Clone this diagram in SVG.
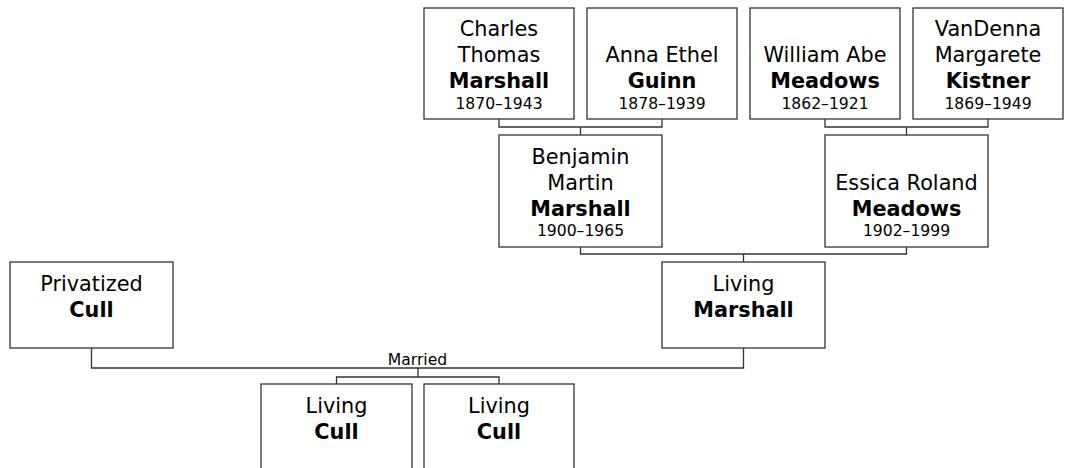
<svg xmlns="http://www.w3.org/2000/svg" width="1066" height="468" viewBox="0 0 1066 468">
  <style>
    .box { fill: #ffffff; stroke: #333333; stroke-width: 1.3; }
    .conn { fill: none; stroke: #333333; stroke-width: 1.3; }
    text { font-family: "DejaVu Sans", Verdana, sans-serif; fill: #000000; text-anchor: middle; }
    .n { font-size: 20.8px; }
    .s { font-size: 20.8px; font-weight: bold; }
    .y { font-size: 15.6px; }
    .lbl { font-size: 15.6px; }
  </style>
  <rect width="1066" height="468" fill="#ffffff"/>
  <g id="connectors">
    <path class="conn" d="M499,119 V127 H662 V119 M580.5,127 V135"/>
    <path class="conn" d="M825,119 V127 H988 V119 M906.5,127 V135"/>
    <path class="conn" d="M580.5,247 V254 H906.5 V247 M743.5,254 V262"/>
    <path class="conn" d="M91.5,348 V368 H743.5 V348"/>
    <path class="conn" d="M418,368 V377 M336.5,384 V377 H499 V384"/>
    <text class="lbl" x="417.5" y="364.5">Married</text>
  </g>
  <g id="charles">
    <rect class="box" x="424" y="8" width="150" height="111"/>
    <text class="n" x="499" y="36">Charles</text>
    <text class="n" x="499" y="62">Thomas</text>
    <text class="s" x="499" y="88">Marshall</text>
    <text class="y" x="499" y="108.5">1870–1943</text>
  </g>
  <g id="anna">
    <rect class="box" x="587" y="8" width="150" height="111"/>
    <text class="n" x="662" y="62">Anna Ethel</text>
    <text class="s" x="662" y="88">Guinn</text>
    <text class="y" x="662" y="108.5">1878–1939</text>
  </g>
  <g id="william">
    <rect class="box" x="750" y="8" width="150" height="111"/>
    <text class="n" x="825" y="62">William Abe</text>
    <text class="s" x="825" y="88">Meadows</text>
    <text class="y" x="825" y="108.5">1862–1921</text>
  </g>
  <g id="vandenna">
    <rect class="box" x="913" y="8" width="150" height="111"/>
    <text class="n" x="988" y="36">VanDenna</text>
    <text class="n" x="988" y="62">Margarete</text>
    <text class="s" x="988" y="88">Kistner</text>
    <text class="y" x="988" y="108.5">1869–1949</text>
  </g>
  <g id="benjamin">
    <rect class="box" x="499" y="135" width="163" height="112"/>
    <text class="n" x="580.5" y="164">Benjamin</text>
    <text class="n" x="580.5" y="190">Martin</text>
    <text class="s" x="580.5" y="216">Marshall</text>
    <text class="y" x="580.5" y="236">1900–1965</text>
  </g>
  <g id="essica">
    <rect class="box" x="825" y="135" width="163" height="112"/>
    <text class="n" x="906.5" y="190">Essica Roland</text>
    <text class="s" x="906.5" y="216">Meadows</text>
    <text class="y" x="906.5" y="236">1902–1999</text>
  </g>
  <g id="living-marshall">
    <rect class="box" x="662" y="262" width="163" height="86"/>
    <text class="n" x="743.5" y="291">Living</text>
    <text class="s" x="743.5" y="317">Marshall</text>
  </g>
  <g id="privatized-cull">
    <rect class="box" x="10" y="262" width="163" height="86"/>
    <text class="n" x="91.5" y="291">Privatized</text>
    <text class="s" x="91.5" y="317">Cull</text>
  </g>
  <g id="living-cull-1">
    <rect class="box" x="261" y="384" width="151" height="86"/>
    <text class="n" x="336.5" y="413">Living</text>
    <text class="s" x="336.5" y="439">Cull</text>
  </g>
  <g id="living-cull-2">
    <rect class="box" x="424" y="384" width="150" height="86"/>
    <text class="n" x="499" y="413">Living</text>
    <text class="s" x="499" y="439">Cull</text>
  </g>
</svg>
